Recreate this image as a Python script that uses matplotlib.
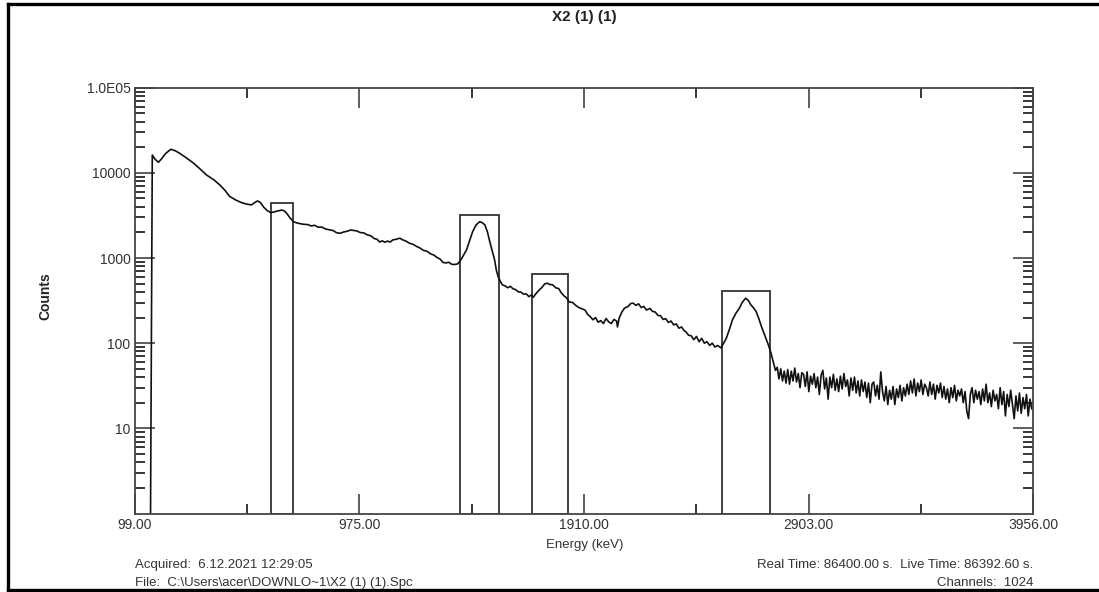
import numpy as np
import matplotlib
matplotlib.use("Agg")
import matplotlib.pyplot as plt
from matplotlib.patches import Rectangle
from matplotlib.lines import Line2D
from matplotlib.ticker import FixedLocator, NullFormatter

plt.rcParams['font.family'] = ['Liberation Sans', 'DejaVu Sans']

# -------------------------------
# Spectrum (channel, counts) - low/medium energy part
# -------------------------------
main_ch = [18, 20, 23, 27, 31, 35, 41, 46, 51, 58, 67, 74, 82, 90, 97, 103, 108, 115,
           121, 127, 133, 137, 140, 143, 147, 151, 155, 159, 163, 167, 170, 173, 177,
           181, 186, 192, 197, 201, 205, 209, 213, 217, 222, 226, 230, 234, 238, 242,
           246, 249, 253, 257, 261, 265, 269, 273, 276, 279, 282, 285, 288, 291, 294,
           298, 302, 305, 309, 313, 317, 321, 325, 329, 333, 337, 341, 344, 348, 351,
           354, 358, 361, 364, 368, 372, 375, 378, 382, 385, 389, 393, 396, 399, 402,
           404, 407, 410, 412, 414, 417, 419, 422, 425, 428, 431, 434, 437, 440, 443,
           446, 449, 452, 454, 457, 461, 464, 467, 470, 473, 476, 480, 483, 486, 489,
           492, 495, 499, 502, 506, 510, 513, 516, 519, 522, 525, 528, 531, 534, 537,
           540, 543, 546, 549, 550, 552, 555, 558, 562, 565, 568, 571, 574, 577, 580,
           583, 587, 590, 593, 596, 599, 602, 605, 608, 611, 614, 617, 620, 623, 626,
           628, 631, 634, 637, 640, 643, 646, 649, 652, 655, 658, 661, 664, 668, 671,
           674, 678, 681, 685, 689, 692, 696, 699, 702, 705, 708, 711, 714, 717, 719,
           722, 725, 728, 730]
main_counts = [1, 16200, 14500, 13300, 14800, 16800, 18900, 18200, 17000, 15200, 13000,
               11200, 9400, 8300, 7200, 6200, 5300, 4800, 4500, 4310, 4200, 4500, 4680,
               4500, 3950, 3600, 3410, 3480, 3570, 3650, 3600, 3360, 2950, 2660, 2560,
               2490, 2470, 2380, 2420, 2300, 2310, 2200, 2140, 2100, 1980, 1950, 2020,
               2060, 2130, 2110, 2080, 1990, 1970, 1870, 1820, 1690, 1660, 1540, 1590,
               1530, 1580, 1540, 1630, 1660, 1710, 1640, 1580, 1490, 1450, 1370, 1310,
               1230, 1200, 1120, 1080, 1020, 970, 890, 875, 890, 845, 838, 853, 968,
               1100, 1244, 1650, 2040, 2450, 2670, 2600, 2440, 2000, 1630, 1250, 950,
               720, 605, 520, 483, 470, 448, 465, 435, 425, 400, 398, 376, 380, 352,
               368, 345, 380, 423, 452, 495, 506, 488, 485, 445, 438, 390, 360, 340,
               305, 300, 280, 262, 252, 245, 218, 205, 188, 200, 176, 184, 170, 195, 178,
               170, 190, 182, 155, 198, 232, 258, 269, 292, 295, 278, 290, 262, 270,
               245, 256, 236, 232, 212, 210, 190, 194, 175, 182, 164, 168, 150, 155,
               140, 136, 124, 122, 110, 120, 104, 114, 100, 104, 94, 100, 90, 94, 88,
               100, 114, 150, 188, 225, 258, 300, 337, 318, 282, 260, 235, 195, 157,
               130, 114, 95, 76, 58, 48]

# High energy tail, one value every two channels starting at channel 732
tail_counts = [52, 38, 50, 36, 47, 34, 49,
               33, 47, 36, 51, 35, 44, 30, 45,
               43, 31, 46, 27, 41, 33, 44, 30, 40, 25, 42,
               48, 29, 39, 22, 40, 30, 43, 28, 38,
               27, 41, 29, 44, 31, 37, 24, 39, 28, 40,
               26, 36, 24, 37, 27, 35, 23, 34, 20, 33,
               35, 24, 32, 22, 46, 27, 21, 31, 19, 28,
               22, 31, 19, 29, 23, 32, 21, 30, 24, 33,
               25, 36, 26, 38, 24, 34, 27, 37, 25, 33,
               30, 24, 35, 25, 33, 22, 32, 26, 34, 23,
               31, 22, 29, 20, 30, 23, 32, 21, 28, 24,
               29, 20, 27, 16, 13, 25, 30, 20, 28, 22,
               27, 19, 29, 21, 33, 20, 26, 18, 28, 21,
               25, 17, 30, 19, 27, 14, 25, 18, 28, 19,
               13, 24, 16, 26, 15, 23, 17, 25, 14, 22, 17]
tail_start = 732

# Regions of interest (channels) and box heights (counts)
roi_start = [155, 371, 453, 669]
roi_end = [180, 415, 494, 724]
roi_top = [4400, 3230, 645, 414]

# Energy calibration labels at major channel ticks
tick_ch = [0, 256, 512, 768, 1024]
tick_energy = ["99.00", "975.00", "1910.00", "2903.00", "3956.00"]
n_channels = 1024

tail_ch = np.arange(tail_start, tail_start + 2 * len(tail_counts), 2)
channels = np.concatenate([main_ch, tail_ch])
counts = np.concatenate([main_counts, tail_counts])

# -------------------------------
# Plot
# -------------------------------
fig = plt.figure(figsize=(10.99, 5.92), dpi=100)
ax = fig.add_axes([0.1226, 0.1326, 0.8178, 0.7193])

ax.plot(channels, counts, color="#111111", linewidth=1.2)

for x0, x1, top in zip(roi_start, roi_end, roi_top):
    ax.add_patch(Rectangle((x0, 1), x1 - x0, top - 1, fill=False,
                           edgecolor="#333333", linewidth=1.3))

ax.set_yscale("log")
ax.set_xlim(0, n_channels)
ax.set_ylim(1, 1e5)

ax.xaxis.set_major_locator(FixedLocator(tick_ch))
ax.set_xticklabels(tick_energy)
ax.xaxis.set_minor_locator(FixedLocator([128, 384, 640, 896]))

decades = [10, 100, 1000, 10000, 100000]
ax.yaxis.set_major_locator(FixedLocator(decades))
ax.set_yticklabels(["10", "100", "1000", "10000", "1.0E05"])
minor_y = [m * 10.0 ** d for d in range(0, 5) for m in range(2, 10)]
ax.yaxis.set_minor_locator(FixedLocator(minor_y))
ax.yaxis.set_minor_formatter(NullFormatter())

ax.tick_params(which="major", direction="in", length=14.5, width=1.1,
               top=True, right=True, labelsize=10, pad=3, colors="#333333")
ax.tick_params(which="minor", direction="in", length=7.5, width=1.1,
               top=True, right=True)
for s in ax.spines.values():
    s.set_color("#444444")
    s.set_linewidth(1.3)

# Texts
fig.text(584.5 / 1099, 1 - 17 / 592, "X2 (1) (1)", ha="center", va="center",
         fontsize=11, fontweight="bold", color="#222222")
fig.text(45 / 1099, 1 - 296 / 592, "Counts", ha="center", va="center",
         rotation=90, fontsize=10, fontweight="bold", color="#222222")
fig.text(585 / 1099, 1 - 545 / 592, "Energy (keV)", ha="center", va="center",
         fontsize=9.5, color="#333333")

fig.text(134.7 / 1099, 1 - 565 / 592, "Acquired:  6.12.2021 12:29:05",
         ha="left", va="center", fontsize=9.5, color="#333333")
fig.text(134.7 / 1099, 1 - 583 / 592, r"File:  C:\Users\acer\DOWNLO~1\X2 (1) (1).Spc",
         ha="left", va="center", fontsize=9.5, color="#333333")
fig.text(1033 / 1099, 1 - 565 / 592, "Real Time: 86400.00 s.  Live Time: 86392.60 s.",
         ha="right", va="center", fontsize=9.5, color="#333333")
fig.text(1033 / 1099, 1 - 583 / 592, "Channels:  1024",
         ha="right", va="center", fontsize=9.5, color="#333333")

# Frame around the report
frame_kw = dict(color="black", linewidth=2.4, transform=fig.transFigure)
fig.add_artist(Line2D([8 / 1099, 8 / 1099], [1 - 4 / 592, 1 - 589.5 / 592], **frame_kw))
fig.add_artist(Line2D([8 / 1099, 1], [1 - 4 / 592, 1 - 4 / 592], **frame_kw))
fig.add_artist(Line2D([8 / 1099, 1], [1 - 589.5 / 592, 1 - 589.5 / 592], **frame_kw))

fig.savefig("out.png", dpi=100)
